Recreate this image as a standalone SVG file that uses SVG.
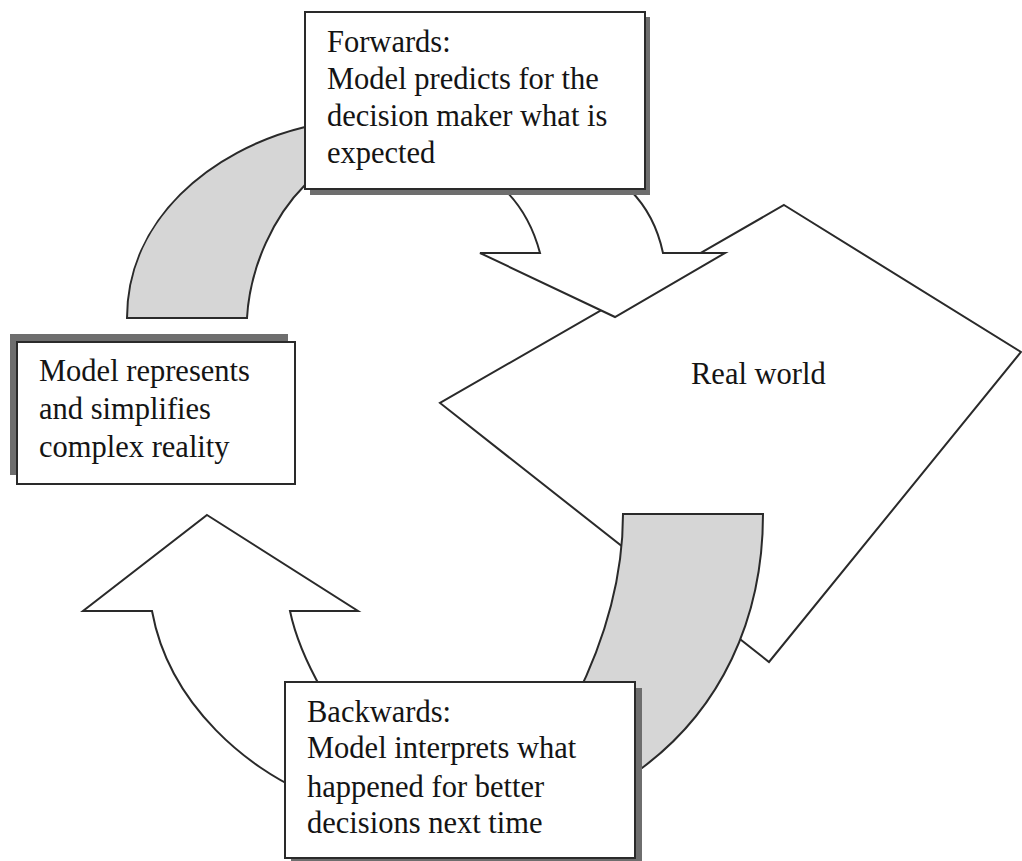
<svg xmlns="http://www.w3.org/2000/svg" width="1022" height="861" viewBox="0 0 1022 861">
<defs>
<style>
.ln{fill:none;stroke:#2a2a2a;stroke-width:2;stroke-linejoin:miter}
.wf{fill:#ffffff;stroke:#2a2a2a;stroke-width:2;stroke-linejoin:miter}
.sh{fill:#d6d6d6;stroke:#2a2a2a;stroke-width:2}
.box{fill:#ffffff;stroke:#2a2a2a;stroke-width:2}
.shadow{fill:#6e6e6e;stroke:none}
.t{font-family:"Liberation Serif","Times New Roman",serif;font-size:30.5px;fill:#141414}
</style>
</defs>
<rect width="1022" height="861" fill="#ffffff"/>
<g id="real-world">
<polygon class="wf" points="784,205 1021,352 769,662 440,403"/>
<text class="t" x="691" y="384">Real world</text>
</g>
<g id="connectors">
<path id="arc-up-shaded" class="sh" d="M127,318 C127,220 210,150 305,127 L330,127 L330,185 L305,185 C275,215 250,265 247,318 Z"/>
<path id="arrow-forward" class="wf" d="M505,190 Q530,215 540,253 L480,253 L615,317 L725,253 L663,253 Q655,215 630,190 Z"/>
<path id="arc-down-shaded" class="sh" d="M623,514 L763,514 C763,620 720,710 642,768 L600,768 L575,700 C605,640 623,580 623,514 Z"/>
<path id="arrow-backward" class="wf" d="M207,515 L358,611 L290,611 C295,635 305,660 322,690 L300,790 C255,770 170,710 152,611 L83,611 Z"/>
</g>
<g id="box-forwards">
<rect class="shadow" x="310" y="17" width="340" height="178"/>
<rect class="box" x="305" y="12" width="340" height="177"/>
<text class="t" x="327" y="52">Forwards:</text>
<text class="t" x="327" y="89">Model predicts for the</text>
<text class="t" x="327" y="126">decision maker what is</text>
<text class="t" x="327" y="163">expected</text>
</g>
<g id="box-model">
<rect class="shadow" x="10" y="334" width="278" height="141"/>
<rect class="box" x="17" y="342" width="278" height="142"/>
<text class="t" x="39" y="381">Model represents</text>
<text class="t" x="39" y="419">and simplifies</text>
<text class="t" x="39" y="457">complex reality</text>
</g>
<g id="box-backwards">
<rect class="shadow" x="291" y="688" width="351" height="180"/>
<rect class="box" x="285" y="682" width="350" height="176"/>
<text class="t" x="307" y="722">Backwards:</text>
<text class="t" x="307" y="758">Model interprets what</text>
<text class="t" x="307" y="797">happened for better</text>
<text class="t" x="307" y="833">decisions next time</text>
</g>
</svg>
